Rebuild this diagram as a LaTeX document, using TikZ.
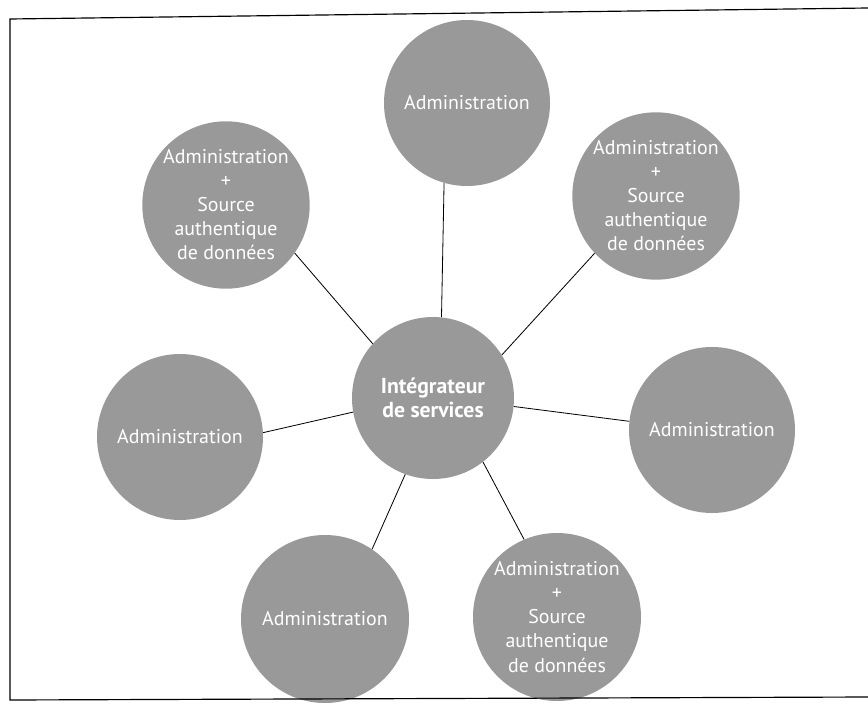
\documentclass[tikz,border=0pt]{standalone}
\usepackage{fontspec}
\setmainfont{PT Sans}
\definecolor{discgray}{gray}{0.6}

\begin{document}
\begin{tikzpicture}[x=0.03cm, y=-0.03cm,
  disc/.style={circle, fill=discgray, text=white, minimum size=4.98cm, inner sep=0pt, align=center, font=\fontsize{17}{20.5}\selectfont},
  spoke/.style={line width=0.7pt}]

\useasboundingbox (0,0) rectangle (868,705) ;

\node [disc, minimum size=4.86cm, font=\fontsize{18.5}{21}\selectfont\bfseries] (hub) at (433,398) {Intégrateur\\de services} ;

\node [disc] (top) at (467,103) {Administration} ;
\node [disc] (topright) at (656,196) {Administration\\+\\Source\\authentique\\de données} ;
\node [disc] (topleft) at (226,205) {Administration\\+\\Source\\authentique\\de données} ;
\node [disc] (left) at (180,437) {Administration} ;
\node [disc] (right) at (712,430) {Administration} ;
\node [disc, minimum size=5.04cm] (botleft) at (325,619) {Administration} ;
\node [disc, minimum size=5.04cm] (botright) at (557,617) {Administration\\+\\Source\\authentique\\de données} ;

\draw [spoke] (hub.84) to (top.-106) ;
\draw [spoke] (hub.32) to (topright.223) ;
\draw [spoke] (hub.138) to (topleft.-35) ;
\draw [spoke] (hub.190) to (left.3) ;
\draw [spoke] (hub.-6) to (right.174) ;
\draw [spoke] (hub.250) to (botleft.56) ;
\draw [spoke] (hub.-52) to (botright.113) ;

\draw [line width=1pt] (868,8) -- (10,19) -- (10,700) -- (868,697) ;

\end{tikzpicture}
\end{document}
